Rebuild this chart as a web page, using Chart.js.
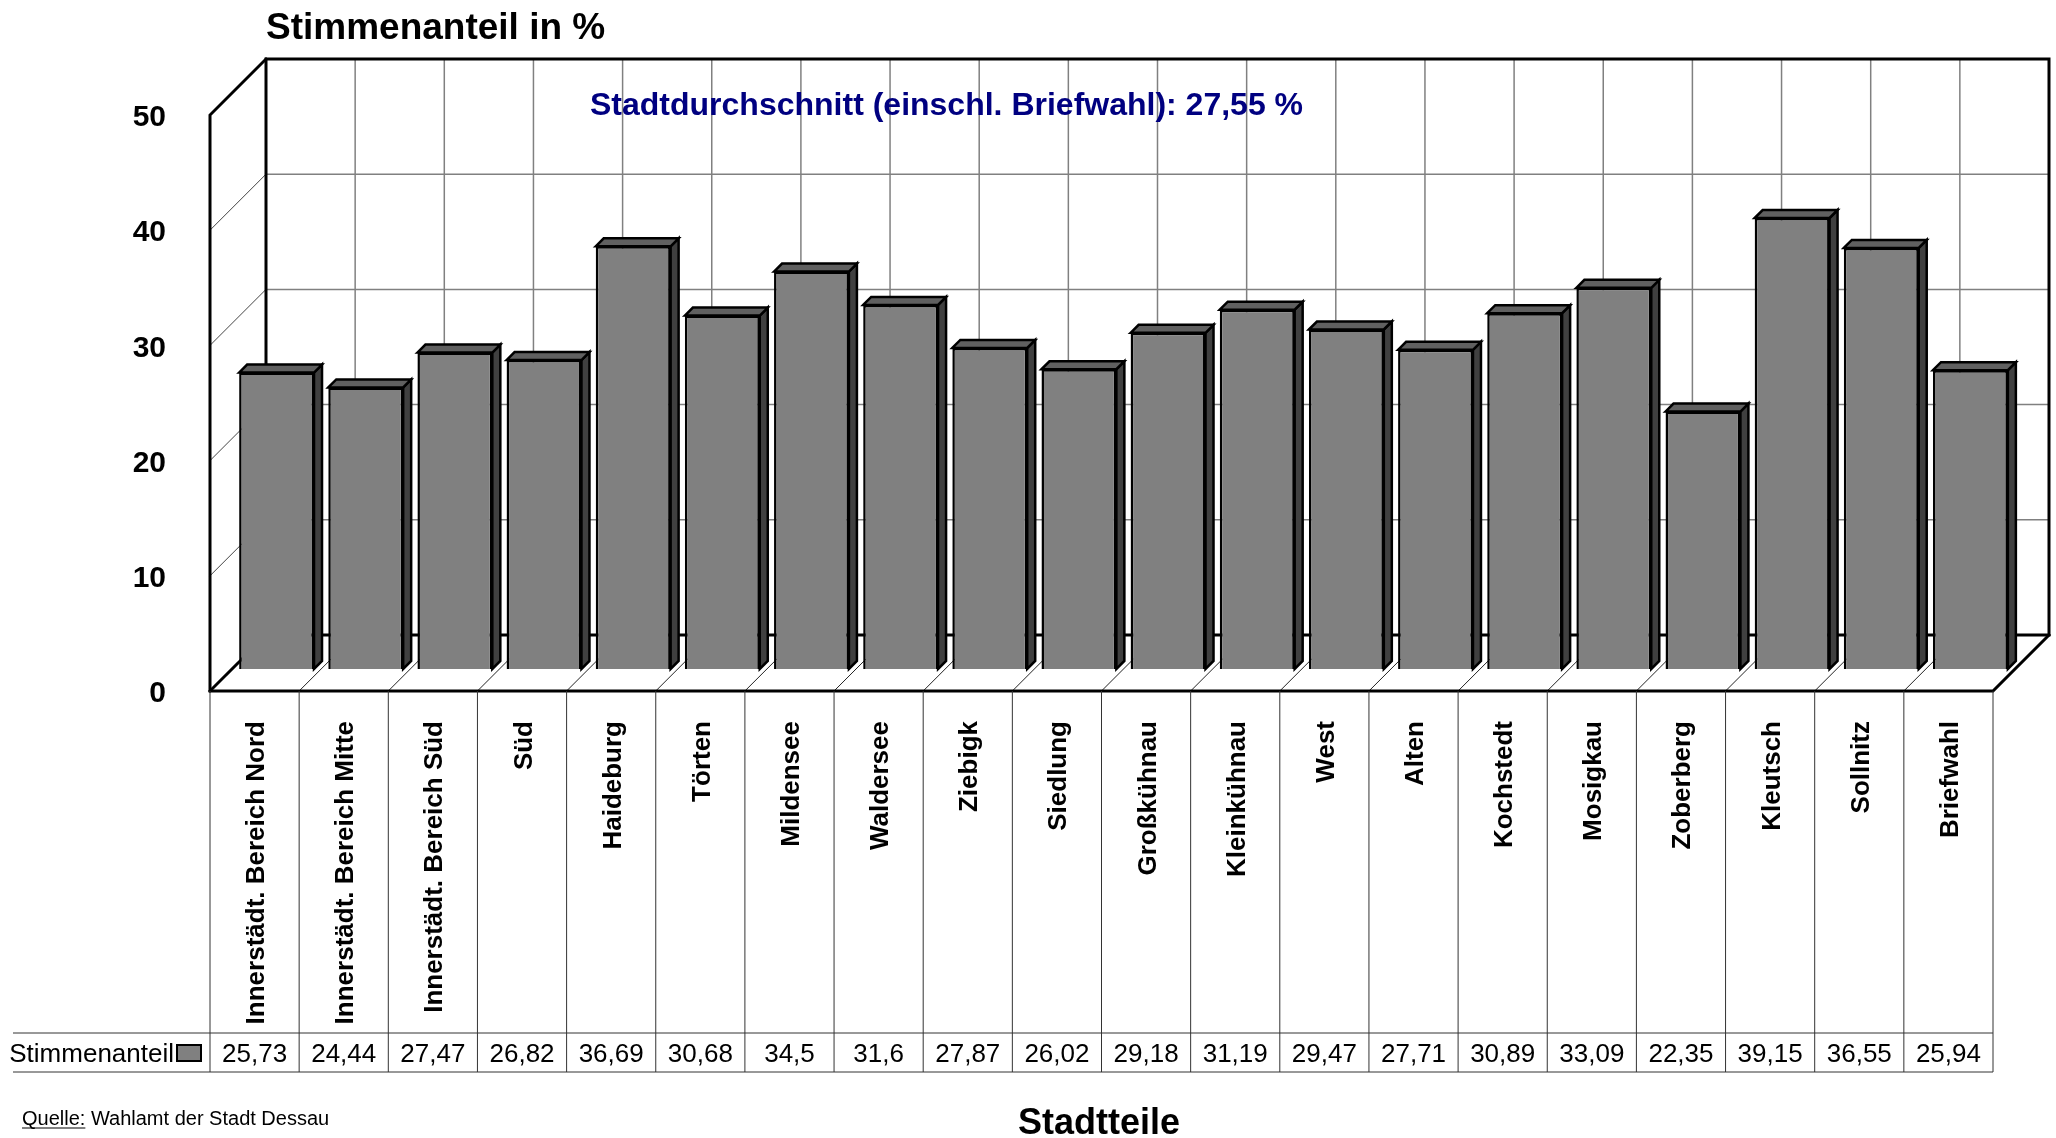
<!DOCTYPE html>
<html lang="de">
<head>
<meta charset="utf-8">
<title>Stimmenanteil in % nach Stadtteilen</title>
<script src="https://cdn.jsdelivr.net/npm/chart.js@4.4.1/dist/chart.umd.min.js"></script>
<style>
  html, body { margin: 0; padding: 0; background: #fff; }
  #wrap { width: 2056px; height: 1138px; }
</style>
</head>
<body>
<div id="wrap"><canvas id="grafico" width="2056" height="1138"></canvas></div>
<script>
/* ======= Daten ======= */
const stadtteile = [
  "Innerstädt. Bereich Nord", "Innerstädt. Bereich Mitte", "Innerstädt. Bereich Süd",
  "Süd", "Haideburg", "Törten", "Mildensee", "Waldersee", "Ziebigk", "Siedlung",
  "Großkühnau", "Kleinkühnau", "West", "Alten", "Kochstedt", "Mosigkau",
  "Zoberberg", "Kleutsch", "Sollnitz", "Briefwahl"
];
const stimmenanteil = [
  25.73, 24.44, 27.47, 26.82, 36.69, 30.68, 34.5, 31.6, 27.87, 26.02,
  29.18, 31.19, 29.47, 27.71, 30.89, 33.09, 22.35, 39.15, 36.55, 25.94
];
const yTicks = [0, 10, 20, 30, 40, 50];
const serienName = "Stimmenanteil";
const titelText = "Stimmenanteil in %";
const durchschnittText = "Stadtdurchschnitt (einschl. Briefwahl): 27,55 %";
const achsenTitel = "Stadtteile";

/* ======= Optik ======= */
const FONT = "'Liberation Sans', Arial, sans-serif";
const TIEFE = 56;        // Tiefe der Rückwand
const BALKEN_VERSATZ = 22;
const BALKEN_TIEFE = 8;
const TABELLE_WERTE_OBEN = 1033;
const TABELLE_UNTEN = 1072;

function linie(ctx, pts, breite, farbe) {
  ctx.beginPath();
  ctx.moveTo(pts[0][0], pts[0][1]);
  for (let i = 1; i < pts.length; i++) ctx.lineTo(pts[i][0], pts[i][1]);
  ctx.lineWidth = breite;
  ctx.strokeStyle = farbe;
  ctx.stroke();
}

const diagramm3d = {
  id: 'diagramm3d',
  beforeDatasetsDraw(chart) {
    const { ctx, chartArea: { left, right, top, bottom }, scales: { x, y } } = chart;
    const catW = (right - left) / stadtteile.length;
    ctx.save();
    ctx.lineCap = 'square';

    // Gitter der Rückwand und linken Seitenwand
    yTicks.forEach(v => {
      const yy = y.getPixelForValue(v);
      if (v > 0 && v < 50) {
        linie(ctx, [[left + TIEFE, yy - TIEFE], [right + TIEFE, yy - TIEFE]], 1.5, '#808080');
        linie(ctx, [[left, yy], [left + TIEFE, yy - TIEFE]], 1, '#444');
      }
    });
    for (let i = 1; i < stadtteile.length; i++) {
      const bx = x.getPixelForValue(i) - catW / 2;
      linie(ctx, [[bx + TIEFE, top - TIEFE], [bx + TIEFE, bottom - TIEFE]], 1.5, '#808080');
      linie(ctx, [[bx, bottom], [bx + TIEFE, bottom - TIEFE]], 1, '#222');
    }

    // kräftige Kanten
    linie(ctx, [[left + TIEFE, bottom - TIEFE], [left + TIEFE, top - TIEFE],
                [right + TIEFE, top - TIEFE], [right + TIEFE, bottom - TIEFE],
                [left + TIEFE, bottom - TIEFE]], 3, '#000');
    linie(ctx, [[left + TIEFE, top - TIEFE], [left, top], [left, bottom],
                [right, bottom], [right + TIEFE, bottom - TIEFE]], 3, '#000');
    linie(ctx, [[left, bottom], [left + TIEFE, bottom - TIEFE]], 3, '#000');
    ctx.restore();

    ctx.save();
    ctx.translate(BALKEN_VERSATZ, -BALKEN_VERSATZ);
  },
  afterDatasetsDraw(chart) {
    const { ctx } = chart;
    const meta = chart.getDatasetMeta(0);
    const d = BALKEN_TIEFE;
    ctx.lineJoin = 'miter';
    meta.data.forEach(el => {
      const p = el.getProps(['x', 'y', 'base', 'width'], true);
      const l = p.x - p.width / 2, r = p.x + p.width / 2;
      ctx.beginPath();
      ctx.moveTo(r, p.y); ctx.lineTo(r + d, p.y - d); ctx.lineTo(r + d, p.base - d); ctx.lineTo(r, p.base);
      ctx.closePath();
      ctx.fillStyle = '#404040'; ctx.fill();
      ctx.lineWidth = 2.5; ctx.strokeStyle = '#000'; ctx.stroke();
      ctx.beginPath();
      ctx.moveTo(l, p.y); ctx.lineTo(l + d, p.y - d); ctx.lineTo(r + d, p.y - d); ctx.lineTo(r, p.y);
      ctx.closePath();
      ctx.fillStyle = '#606060'; ctx.fill();
      ctx.stroke();
    });
    ctx.restore();
  },
  afterDraw(chart) {
    const { ctx, chartArea: { left, right, bottom }, scales: { x } } = chart;
    const catW = (right - left) / stadtteile.length;
    ctx.save();

    // Datentabelle
    for (let i = 0; i <= stadtteile.length; i++) {
      const bx = i < stadtteile.length ? x.getPixelForValue(i) - catW / 2 : x.getPixelForValue(i - 1) + catW / 2;
      linie(ctx, [[bx, bottom], [bx, TABELLE_UNTEN]], 1, '#333');
    }
    linie(ctx, [[13, TABELLE_WERTE_OBEN], [right, TABELLE_WERTE_OBEN]], 1, '#333');
    linie(ctx, [[13, TABELLE_UNTEN], [right, TABELLE_UNTEN]], 1, '#333');

    ctx.fillStyle = '#000';
    ctx.font = 'bold 26px ' + FONT;
    ctx.textAlign = 'right';
    ctx.textBaseline = 'alphabetic';
    stadtteile.forEach((name, i) => {
      ctx.save();
      ctx.translate(x.getPixelForValue(i), 721);
      ctx.rotate(-Math.PI / 2);
      ctx.fillText(name, 0, 9.5);
      ctx.restore();
    });

    ctx.font = '26px ' + FONT;
    ctx.textAlign = 'center';
    stimmenanteil.forEach((v, i) => {
      ctx.fillText(String(v).replace('.', ','), x.getPixelForValue(i), 1062);
    });

    // Legende in der Tabelle
    ctx.textAlign = 'right';
    ctx.fillText(serienName, 174, 1062);
    ctx.fillStyle = '#808080';
    ctx.fillRect(177, 1045, 24, 16);
    ctx.lineWidth = 2;
    ctx.strokeStyle = '#000';
    ctx.strokeRect(177, 1045, 24, 16);

    // Texte
    ctx.fillStyle = '#000';
    ctx.textAlign = 'left';
    ctx.font = 'bold 37px ' + FONT;
    ctx.fillText(titelText, 266, 39);

    ctx.fillStyle = '#000080';
    ctx.font = 'bold 32px ' + FONT;
    ctx.fillText(durchschnittText, 590, 115);

    ctx.fillStyle = '#000';
    ctx.textAlign = 'center';
    ctx.font = 'bold 36px ' + FONT;
    ctx.fillText(achsenTitel, 1099, 1134);

    ctx.textAlign = 'left';
    ctx.font = '20px ' + FONT;
    ctx.fillText('Quelle:', 22, 1125);
    const qw = ctx.measureText('Quelle:').width;
    linie(ctx, [[22, 1128], [22 + qw, 1128]], 1.2, '#000');
    ctx.fillText(' Wahlamt der Stadt Dessau', 22 + qw, 1125);

    ctx.restore();
  }
};

/* ======= Diagramm ======= */
new Chart(document.getElementById('grafico'), {
  type: 'bar',
  data: {
    labels: stadtteile,
    datasets: [{
      label: serienName,
      data: stimmenanteil,
      backgroundColor: '#808080',
      borderColor: '#000',
      borderWidth: 2.5,
      barPercentage: 0.84,
      categoryPercentage: 1,
      clip: false
    }]
  },
  options: {
    responsive: false,
    animation: false,
    layout: { padding: { left: 0, top: 115, right: 63, bottom: 447 } },
    plugins: { legend: { display: false }, tooltip: { enabled: false } },
    scales: {
      x: { display: false },
      y: {
        min: 0,
        max: 50,
        afterFit: s => { s.width = 210; },
        afterBuildTicks: s => { s.ticks = yTicks.map(v => ({ value: v })); },
        grid: { display: false, drawTicks: false },
        border: { display: false },
        ticks: {
          padding: 44,
          labelOffset: 3,
          color: '#000',
          font: { family: FONT, size: 30, weight: 'bold' }
        }
      }
    }
  },
  plugins: [diagramm3d]
});
</script>
</body>
</html>
